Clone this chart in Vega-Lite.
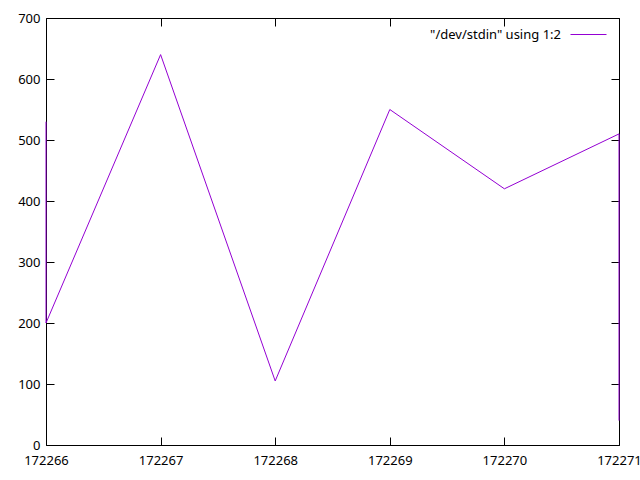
{
  "$schema": "https://vega.github.io/schema/vega-lite/v6.json",
  "width": 573,
  "height": 427,
  "autosize": "none",
  "padding": {"left": 46, "top": 18, "right": 21, "bottom": 35},
  "background": "white",
  "config": {
    "view": {"stroke": "black", "strokeWidth": 1},
    "font": "Noto Sans",
    "axis": {
      "domain": false,
      "grid": false,
      "tickColor": "black",
      "tickWidth": 1,
      "tickSize": -8,
      "labelFont": "Noto Sans",
      "labelFontSize": 13,
      "labelColor": "black",
      "title": null,
      "labelOverlap": false,
      "labelBound": false,
      "labelFlush": false
    }
  },
  "data": {
    "values": [
      {"i": 0, "x": 172266, "y": 530, "s": "\"/dev/stdin\" using 1:2"},
      {"i": 1, "x": 172266, "y": 200, "s": "\"/dev/stdin\" using 1:2"},
      {"i": 2, "x": 172267, "y": 640, "s": "\"/dev/stdin\" using 1:2"},
      {"i": 3, "x": 172268, "y": 105, "s": "\"/dev/stdin\" using 1:2"},
      {"i": 4, "x": 172269, "y": 550, "s": "\"/dev/stdin\" using 1:2"},
      {"i": 5, "x": 172270, "y": 420, "s": "\"/dev/stdin\" using 1:2"},
      {"i": 6, "x": 172271, "y": 510, "s": "\"/dev/stdin\" using 1:2"},
      {"i": 7, "x": 172271, "y": 40, "s": "\"/dev/stdin\" using 1:2"}
    ]
  },
  "layer": [
    {
      "mark": {"type": "line", "strokeWidth": 1, "clip": false},
      "encoding": {
        "x": {
          "field": "x", "type": "quantitative",
          "scale": {"domain": [172266, 172271], "nice": false, "zero": false},
          "axis": {"orient": "bottom", "values": [172266, 172267, 172268, 172269, 172270, 172271], "format": "d", "labelPadding": 17}
        },
        "y": {
          "field": "y", "type": "quantitative",
          "scale": {"domain": [0, 700], "nice": false, "zero": true},
          "axis": {"orient": "left", "values": [0, 100, 200, 300, 400, 500, 600, 700], "format": "d", "labelPadding": 14}
        },
        "order": {"field": "i", "type": "quantitative"},
        "color": {
          "field": "s", "type": "nominal",
          "scale": {"range": ["#9400d3"]},
          "legend": {
            "title": null,
            "orient": "none",
            "legendX": 524,
            "legendY": -2,
            "padding": 0,
            "symbolType": "stroke",
            "symbolSize": 1296,
            "symbolStrokeWidth": 1,
            "labelAlign": "right",
            "labelOffset": -46,
            "labelFontSize": 13,
            "labelFont": "Noto Sans",
            "labelColor": "black",
            "labelLimit": 300
          }
        }
      }
    },
    {
      "mark": {"type": "line", "opacity": 0},
      "encoding": {
        "x": {
          "field": "x", "type": "quantitative",
          "axis": {"orient": "top", "values": [172266, 172267, 172268, 172269, 172270, 172271], "labels": false}
        },
        "y": {
          "field": "y", "type": "quantitative",
          "axis": {"orient": "right", "values": [0, 100, 200, 300, 400, 500, 600, 700], "labels": false}
        }
      }
    }
  ],
  "resolve": {"axis": {"x": "independent", "y": "independent"}}
}
